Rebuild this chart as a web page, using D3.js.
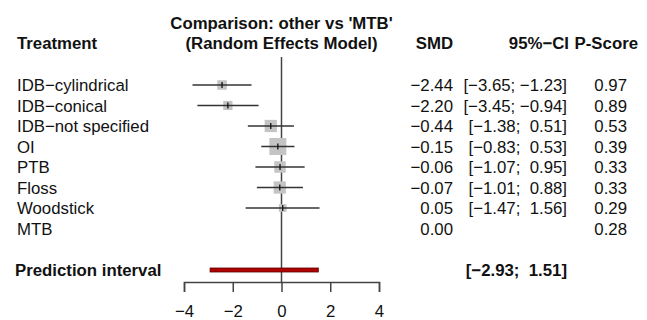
<!DOCTYPE html>
<html>
<head>
<meta charset="utf-8">
<script src="https://cdn.jsdelivr.net/npm/d3@7"></script>
<style>
  html, body { margin: 0; padding: 0; background: #fff; }
  svg text { font-family: "Liberation Sans", Arial, sans-serif; fill: #111; white-space: pre; }
</style>
</head>
<body>
<div id="chart"></div>
<script>
// data
const treatments = ["IDB\u2212cylindrical", "IDB\u2212conical", "IDB\u2212not specified", "OI", "PTB", "Floss", "Woodstick", "MTB"];
const smd = [-2.44, -2.20, -0.44, -0.15, -0.06, -0.07, 0.05, 0.00];
const ciLow = [-3.65, -3.45, -1.38, -0.83, -1.07, -1.01, -1.47, null];
const ciHigh = [-1.23, -0.94, 0.51, 0.53, 0.95, 0.88, 1.56, null];
const pScore = [0.97, 0.89, 0.53, 0.39, 0.33, 0.33, 0.29, 0.28];
const predInterval = [-2.93, 1.51];
const xTicks = [-4, -2, 0, 2, 4];

const W = 647, H = 320;
const fs = 16.8;

const svg = d3.select("#chart").append("svg")
  .attr("width", W)
  .attr("height", H)
  .attr("viewBox", [0, 0, W, H]);

const x = d3.scaleLinear().domain([-4, 4]).range([184, 379]);
const y = d3.scalePoint().domain(treatments).range([85, 228.5]);
const predY = 270;
const axisY = 282;

const fmt = (v) => d3.format(".2f")(v).replace("-", "\u2212");
const fmtCi = (lo, hi) => {
  const pad = (v) => (v < 0 ? "" : " ") + fmt(v);
  return "[" + fmt(lo) + "; " + pad(hi) + "]";
};

// square size ~ sqrt of inverse variance (from CI width)
const weights = treatments.map((d, i) =>
  ciLow[i] == null ? 0 : 1 / Math.pow((ciHigh[i] - ciLow[i]) / 3.92, 2));
const side = d3.scaleSqrt().domain([0, d3.max(weights)]).range([0, 17]);

// headers
const head = svg.append("g").attr("font-weight", "bold").attr("font-size", fs);
head.append("text").attr("x", 17).attr("y", 49).text("Treatment");
head.append("text").attr("x", x(0)).attr("y", 29).attr("text-anchor", "middle")
  .text("Comparison: other vs 'MTB'");
head.append("text").attr("x", x(0)).attr("y", 49).attr("text-anchor", "middle")
  .text("(Random Effects Model)");
head.append("text").attr("x", 453).attr("y", 49).attr("text-anchor", "end").text("SMD");
head.append("text").attr("x", 569).attr("y", 49).attr("text-anchor", "end").text("95%\u2212CI");
head.append("text").attr("x", 638).attr("y", 49).attr("text-anchor", "end").text("P-Score");

// reference line at 0
svg.append("line")
  .attr("x1", x(0)).attr("x2", x(0))
  .attr("y1", 57).attr("y2", axisY)
  .attr("stroke", "#444").attr("stroke-width", 1.5);

// rows
const rows = svg.append("g").selectAll("g")
  .data(treatments.map((t, i) => ({ t, i })))
  .join("g")
  .attr("transform", (d) => `translate(0,${y(d.t)})`);

rows.append("text")
  .attr("x", 17).attr("dy", "0.36em").attr("font-size", fs)
  .text((d) => d.t);

rows.filter((d) => ciLow[d.i] != null).each(function (d) {
  const g = d3.select(this);
  const s = side(weights[d.i]);
  g.append("rect")
    .attr("x", x(smd[d.i]) - s / 2).attr("y", -s / 2)
    .attr("width", s).attr("height", s)
    .attr("fill", "#c4c4c4");
  g.append("line")
    .attr("x1", x(ciLow[d.i])).attr("x2", x(ciHigh[d.i]))
    .attr("stroke", "#333").attr("stroke-width", 1.5);
  g.append("line")
    .attr("x1", x(smd[d.i])).attr("x2", x(smd[d.i]))
    .attr("y1", -3).attr("y2", 3)
    .attr("stroke", "#111").attr("stroke-width", 1.3);
});

rows.append("text")
  .attr("x", 453).attr("dy", "0.36em").attr("font-size", fs).attr("text-anchor", "end")
  .text((d) => fmt(smd[d.i]));
rows.append("text")
  .attr("x", 567).attr("dy", "0.36em").attr("font-size", fs).attr("text-anchor", "end")
  .text((d) => ciLow[d.i] == null ? "" : fmtCi(ciLow[d.i], ciHigh[d.i]));
rows.append("text")
  .attr("x", 627).attr("dy", "0.36em").attr("font-size", fs).attr("text-anchor", "end")
  .text((d) => d3.format(".2f")(pScore[d.i]));

// prediction interval
const pred = svg.append("g").attr("transform", `translate(0,${predY})`);
pred.append("text")
  .attr("x", 15).attr("dy", "0.36em").attr("font-size", fs).attr("font-weight", "bold")
  .text("Prediction interval");
pred.append("rect")
  .attr("x", x(predInterval[0])).attr("y", -2)
  .attr("width", x(predInterval[1]) - x(predInterval[0])).attr("height", 4)
  .attr("fill", "#b00000").attr("stroke", "#5a0000").attr("stroke-width", 0.8);
pred.append("text")
  .attr("x", 567).attr("dy", "0.36em").attr("font-size", fs).attr("font-weight", "bold")
  .attr("text-anchor", "end")
  .text(fmtCi(predInterval[0], predInterval[1]));

// x axis
const ax = d3.axisBottom(x)
  .tickValues(xTicks)
  .tickSize(10)
  .tickPadding(13)
  .tickFormat((d) => String(d).replace("-", "\u2212"));

svg.append("g")
  .attr("transform", `translate(0,${axisY})`)
  .call(ax)
  .call((g) => g.select(".domain").attr("stroke", "#444").attr("stroke-width", 1.5))
  .call((g) => g.selectAll(".tick line").attr("stroke", "#444").attr("stroke-width", 1.5))
  .call((g) => g.selectAll(".tick text")
    .attr("font-size", fs).attr("fill", "#111")
    .attr("font-family", "Liberation Sans, Arial, sans-serif"));
</script>
</body>
</html>
